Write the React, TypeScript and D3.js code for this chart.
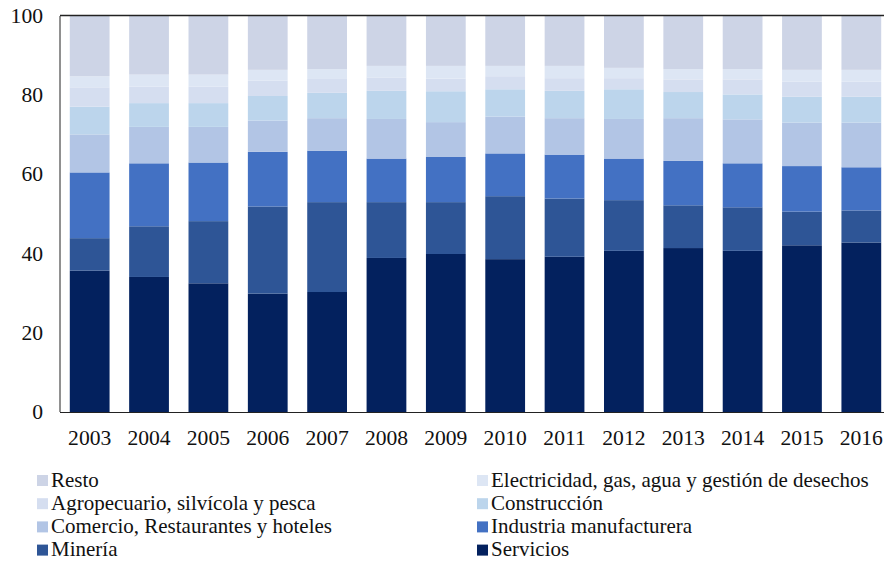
import * as d3 from 'd3';
import { useEffect, useRef } from 'react';

// Years on the x axis
const years = ['2003', '2004', '2005', '2006', '2007', '2008', '2009', '2010', '2011', '2012', '2013', '2014', '2015', '2016'];

// Shares (%) per sector, stacked bottom to top in this order
const servicios = [35.7, 34.1, 32.5, 29.9, 30.3, 38.9, 39.9, 38.6, 39.2, 40.7, 41.4, 40.7, 42.1, 42.8];
const mineria = [8.2, 12.8, 15.7, 22.0, 22.7, 14.1, 13.1, 15.9, 14.7, 12.8, 10.8, 11.0, 8.5, 8.1];
const industria = [16.6, 15.9, 14.8, 13.8, 13.0, 11.0, 11.4, 10.8, 11.1, 10.5, 11.2, 11.1, 11.5, 10.9];
const comercio = [9.6, 9.2, 9.0, 7.9, 8.2, 10.0, 8.8, 9.3, 9.2, 10.0, 10.8, 11.1, 11.0, 11.3];
const construccion = [7.0, 6.0, 6.0, 6.2, 6.4, 7.1, 7.8, 6.9, 6.9, 7.5, 6.6, 6.3, 6.5, 6.5];
const agropecuario = [4.9, 4.2, 4.2, 3.9, 3.5, 3.4, 3.2, 3.3, 3.2, 2.8, 3.2, 3.8, 3.8, 3.8];
const electricidad = [2.8, 3.0, 3.0, 2.7, 2.5, 2.9, 3.2, 2.6, 3.1, 2.6, 2.6, 2.6, 3.0, 3.0];
const resto = [15.2, 14.8, 14.8, 13.6, 13.4, 12.6, 12.6, 12.6, 12.6, 13.1, 13.4, 13.4, 13.6, 13.6];

const seriesNames = [
  'Servicios',
  'Minería',
  'Industria manufacturera',
  'Comercio, Restaurantes y hoteles',
  'Construcción',
  'Agropecuario, silvícola y pesca',
  'Electricidad, gas, agua y gestión de desechos',
  'Resto',
];
const seriesValues = [servicios, mineria, industria, comercio, construccion, agropecuario, electricidad, resto];
const seriesColors = ['#03215e', '#2e5596', '#4371c3', '#b2c5e5', '#bcd5ec', '#d5def0', '#dde6f4', '#cdd4e6'];

// legend as it reads: left column then right column, row by row
const legendOrder = [7, 6, 5, 4, 3, 2, 1, 0];

const yTicks = [0, 20, 40, 60, 80, 100];

export default function App() {
  const ref = useRef<SVGSVGElement>(null);

  useEffect(() => {
    const W = 884;
    const H = 561;
    const M = { top: 16, left: 60, bottom: 412, right: 891 };
    const font = '"Liberation Serif", "Times New Roman", serif';
    // the original text is a little wider than Liberation Serif
    const stretch = 1.08;
    const legendStretch = 1.05;

    const svg = d3.select(ref.current);
    svg.selectAll('*').remove();
    svg.attr('width', W).attr('height', H);

    // table for d3.stack
    const rows = years.map((y, i) => {
      const r: any = { year: y };
      seriesNames.forEach((n, k) => (r[n] = seriesValues[k][i]));
      return r;
    });
    const stacked = d3.stack().keys(seriesNames)(rows);

    const x = d3.scaleBand().domain(years).range([M.left, M.right]).paddingInner(0.33).paddingOuter(0.165);
    const y = d3.scaleLinear().domain([0, 100]).range([M.bottom, M.top]);

    // bars
    svg
      .append('g')
      .selectAll('g')
      .data(stacked)
      .join('g')
      .attr('fill', (_d, i) => seriesColors[i])
      .selectAll('rect')
      .data((d) => d)
      .join('rect')
      .attr('x', (d: any) => x(d.data.year))
      .attr('width', x.bandwidth())
      .attr('y', (d) => y(d[1]))
      .attr('height', (d) => y(d[0]) - y(d[1]));

    // frame: left, bottom and top lines
    const frame = svg.append('g').attr('stroke', '#222').attr('fill', 'none');
    frame.append('line').attr('x1', M.left).attr('x2', M.left).attr('y1', M.top).attr('y2', M.bottom).attr('stroke-width', 1);
    frame.append('line').attr('x1', M.left).attr('x2', W).attr('y1', M.bottom + 0.5).attr('y2', M.bottom + 0.5).attr('stroke-width', 1);
    frame.append('line').attr('x1', M.left).attr('x2', W).attr('y1', M.top - 0.5).attr('y2', M.top - 0.5).attr('stroke-width', 1.5);

    // y labels
    svg
      .append('g')
      .selectAll('text')
      .data(yTicks)
      .join('text')
      .attr('transform', (d) => `translate(43,${y(d)}) scale(${stretch},1)`)
      .attr('dy', '0.35em')
      .attr('text-anchor', 'end')
      .attr('font-family', font)
      .attr('font-size', 20)
      .attr('fill', '#111')
      .text((d) => d);

    // x labels
    svg
      .append('g')
      .selectAll('text')
      .data(years)
      .join('text')
      .attr('transform', (d) => `translate(${(x(d) as number) + x.bandwidth() / 2},445) scale(${stretch},1)`)
      .attr('text-anchor', 'middle')
      .attr('font-family', font)
      .attr('font-size', 20)
      .attr('fill', '#111')
      .text((d) => d);

    // legend
    const legend = svg.append('g');
    legendOrder.forEach((k, i) => {
      const col = i % 2;
      const row = Math.floor(i / 2);
      const lx = col === 0 ? 37 : 477;
      const ly = 480 + row * 23.2;
      legend.append('rect').attr('x', lx).attr('y', ly - 5).attr('width', 11).attr('height', 11).attr('fill', seriesColors[k]);
      legend
        .append('text')
        .attr('transform', `translate(${lx + 14},${ly}) scale(${legendStretch},1)`)
        .attr('dy', '0.33em')
        .attr('font-family', font)
        .attr('font-size', 20)
        .attr('fill', '#111')
        .text(seriesNames[k]);
    });
  }, []);

  return <svg ref={ref} style={{ position: 'absolute', left: 0, top: 0 }}></svg>;
}
